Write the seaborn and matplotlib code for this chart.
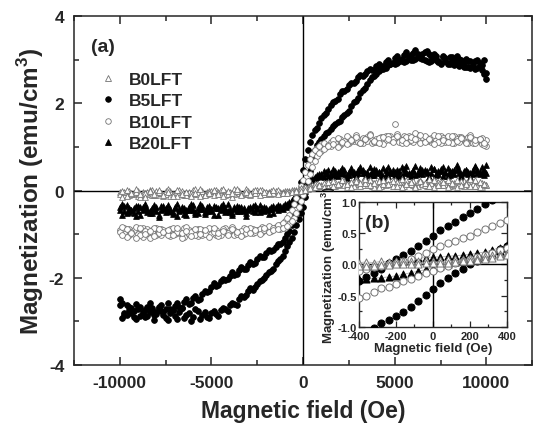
import matplotlib
matplotlib.use("Agg")
import matplotlib.pyplot as plt
import seaborn as sns
from matplotlib.lines import Line2D
from matplotlib.ticker import MultipleLocator, FormatStrFormatter

# ---- data: main loops (Oe, emu/cm^3) ----
field = [-10000, -9750, -9500, -9250, -9000, -8750, -8500, -8250, -8000, -7750,
         -7500, -7250, -7000, -6750, -6500, -6250, -6000, -5750, -5500, -5250,
         -5000, -4750, -4500, -4250, -4000, -3750, -3500, -3250, -3000, -2750,
         -2500, -2250, -2000, -1750, -1500, -1250, -1000, -750, -500, -250,
         0, 250, 500, 750, 1000, 1250, 1500, 1750, 2000, 2250,
         2500, 2750, 3000, 3250, 3500, 3750, 4000, 4250, 4500, 4750,
         5000, 5250, 5500, 5750, 6000, 6250, 6500, 6750, 7000, 7250,
         7500, 7750, 8000, 8250, 8500, 8750, 9000, 9250, 9500, 9750, 10000]
# in-between field points of the sweep
field_mid = [-9875, -9625, -9375, -9125, -8875, -8625, -8375, -8125, -7875, -7625,
             -7375, -7125, -6875, -6625, -6375, -6125, -5875, -5625, -5375, -5125,
             -4875, -4625, -4375, -4125, -3875, -3625, -3375, -3125, -2875, -2625,
             -2375, -2125, -1875, -1625, -1375, -1125, -875, -625, -375, -125,
             125, 375, 625, 875, 1125, 1375, 1625, 1875, 2125, 2375,
             2625, 2875, 3125, 3375, 3625, 3875, 4125, 4375, 4625, 4875,
             5125, 5375, 5625, 5875, 6125, 6375, 6625, 6875, 7125, 7375,
             7625, 7875, 8125, 8375, 8625, 8875, 9125, 9375, 9625, 9875]

# B5LFT: descending branch (from +10 kOe) and ascending branch (from -10 kOe)
b5_down = [-2.62, -2.80, -2.68, -2.77, -2.71, -2.83, -2.66, -2.74, -2.79, -2.63,
           -2.72, -2.81, -2.64, -2.66, -2.55, -2.60, -2.47, -2.50, -2.38, -2.33,
           -2.22, -2.19, -2.08, -2.04, -1.95, -1.93, -1.83, -1.80, -1.70, -1.68,
           -1.58, -1.53, -1.44, -1.39, -1.29, -1.22, -1.10, -0.92, -0.58, -0.06,
           0.47, 0.93, 1.27, 1.43, 1.66, 1.78, 1.97, 2.05, 2.22, 2.28,
           2.42, 2.47, 2.60, 2.63, 2.74, 2.76, 2.86, 2.84, 2.95, 2.91,
           3.03, 2.98, 3.10, 3.02, 3.15, 3.05, 3.12, 2.98, 3.08, 3.00,
           2.93, 3.04, 2.90, 2.99, 2.86, 2.95, 2.84, 2.93, 2.80, 2.88, 2.70]
b5_up = [-2.48, -2.86, -2.74, -2.90, -2.70, -2.79, -2.88, -2.69, -2.84, -2.76,
         -2.92, -2.71, -2.87, -2.78, -2.93, -2.80, -2.89, -2.77, -2.86, -2.90,
         -2.81, -2.84, -2.74, -2.72, -2.63, -2.60, -2.49, -2.43, -2.31, -2.27,
         -2.14, -2.06, -1.94, -1.84, -1.69, -1.57, -1.39, -1.18, -0.94, -0.66,
         -0.38, 0.12, 0.78, 1.05, 1.18, 1.31, 1.40, 1.53, 1.60, 1.74,
         1.83, 2.02, 2.13, 2.31, 2.44, 2.60, 2.66, 2.78, 2.81, 2.90,
         2.89, 2.97, 2.94, 3.06, 2.99, 3.13, 3.02, 3.20, 2.96, 3.09,
         2.89, 2.97, 3.06, 2.88, 3.01, 2.83, 2.97, 2.86, 2.99, 2.77, 2.56]
b5_down_mid = [-2.58, -2.86, -2.70, -2.60, -2.88, -2.75, -2.57, -2.85, -2.69, -2.78,
               -2.58, -2.73, -2.57, -2.69, -2.49, -2.58, -2.41, -2.49, -2.30, -2.31,
               -2.13, -2.17, -2.02, -2.03, -1.87, -1.92, -1.76, -1.79, -1.64, -1.66,
               -1.51, -1.52, -1.37, -1.36, -1.23, -1.19, -0.99, -0.80, -0.32, 0.20,
               0.72, 1.12, 1.38, 1.55, 1.74, 1.87, 2.03, 2.10, 2.27, 2.33,
               2.47, 2.50, 2.64, 2.66, 2.79, 2.77, 2.91, 2.85, 3.00, 2.92,
               3.09, 2.96, 3.18, 3.00, 3.22, 3.03, 3.17, 2.95, 3.12, 2.98,
               3.08, 2.92, 3.05, 2.89, 3.00, 2.82, 2.97, 2.78, 2.92, 2.66]
b5_up_mid = [-2.92, -2.63, -2.81, -2.95, -2.66, -2.91, -2.78, -2.96, -2.67, -2.85,
             -2.97, -2.75, -2.94, -2.70, -2.86, -2.98, -2.72, -2.95, -2.79, -2.93,
             -2.76, -2.88, -2.70, -2.77, -2.57, -2.63, -2.42, -2.39, -2.24, -2.22,
             -2.08, -2.01, -1.86, -1.79, -1.61, -1.50, -1.28, -1.08, -0.80, -0.52,
             -0.15, 0.45, 0.92, 1.12, 1.25, 1.35, 1.47, 1.56, 1.69, 1.77,
             1.94, 2.05, 2.24, 2.36, 2.53, 2.62, 2.74, 2.79, 2.87, 2.93,
             2.92, 3.02, 2.97, 3.10, 3.01, 3.08, 2.99, 3.14, 3.03, 2.94,
             3.07, 2.90, 2.98, 3.08, 2.91, 3.02, 2.81, 2.96, 2.87, 2.99]

# B10LFT
b10_down = [-0.90, -0.97, -0.88, -1.00, -0.92, -0.86, -0.98, -0.91, -1.02, -0.89,
            -0.95, -1.04, -0.90, -0.97, -0.87, -0.99, -0.93, -1.05, -0.91, -0.96,
            -0.88, -1.01, -0.94, -0.86, -0.97, -0.90, -0.99, -0.87, -0.95, -0.89,
            -0.93, -0.84, -0.90, -0.85, -0.83, -0.78, -0.70, -0.55, -0.32, -0.04,
            0.25, 0.58, 0.84, 0.97, 1.06, 1.03, 1.12, 1.08, 1.17, 1.11,
            1.21, 1.14, 1.19, 1.09, 1.23, 1.16, 1.12, 1.22, 1.15, 1.26,
            1.52, 1.18, 1.24, 1.13, 1.20, 1.27, 1.14, 1.21, 1.11, 1.19,
            1.25, 1.12, 1.18, 1.10, 1.22, 1.15, 1.08, 1.19, 1.13, 1.06, 1.15]
b10_up = [-0.95, -0.86, -1.03, -0.91, -0.99, -1.06, -0.89, -0.96, -0.87, -1.01,
          -0.92, -0.88, -1.00, -0.94, -1.07, -0.90, -0.98, -0.89, -1.02, -0.93,
          -1.00, -0.91, -1.03, -0.95, -0.90, -1.01, -0.94, -1.00, -0.92, -0.98,
          -0.90, -0.95, -0.88, -0.93, -0.87, -0.88, -0.85, -0.77, -0.63, -0.38,
          -0.10, 0.22, 0.55, 0.79, 0.90, 0.99, 1.01, 1.08, 1.05, 1.13,
          1.10, 1.18, 1.12, 1.20, 1.14, 1.09, 1.18, 1.13, 1.24, 1.16,
          1.21, 1.12, 1.17, 1.26, 1.11, 1.18, 1.23, 1.13, 1.20, 1.15,
          1.10, 1.21, 1.14, 1.24, 1.12, 1.17, 1.22, 1.10, 1.16, 1.21, 1.02]
b10_down_mid = [-0.84, -1.06, -0.95, -0.83, -1.01, -0.93, -1.08, -0.85, -0.97, -0.90,
                -1.03, -0.87, -0.96, -1.09, -0.84, -0.94, -1.02, -0.88, -0.99, -0.85,
                -0.95, -1.04, -0.89, -0.98, -0.83, -1.00, -0.92, -0.97, -0.86, -0.94,
                -0.88, -0.91, -0.82, -0.87, -0.80, -0.74, -0.63, -0.45, -0.18, 0.10,
                0.43, 0.72, 0.92, 1.01, 1.10, 1.05, 1.16, 1.20, 1.09, 1.25,
                1.14, 1.27, 1.08, 1.18, 1.30, 1.12, 1.21, 1.07, 1.26, 1.17,
                1.29, 1.10, 1.22, 1.16, 1.31, 1.09, 1.24, 1.15, 1.28, 1.11,
                1.20, 1.26, 1.08, 1.17, 1.23, 1.12, 1.27, 1.09, 1.18, 1.04]
b10_up_mid = [-1.01, -0.89, -0.97, -1.08, -0.85, -0.99, -0.92, -1.04, -0.88, -0.96,
              -0.90, -1.02, -0.86, -0.97, -0.93, -1.05, -0.88, -0.99, -0.91, -1.06,
              -0.87, -0.98, -0.93, -1.02, -0.89, -0.96, -1.04, -0.88, -0.97, -0.91,
              -0.99, -0.86, -0.94, -0.90, -0.89, -0.86, -0.81, -0.71, -0.51, -0.24,
              0.05, 0.38, 0.68, 0.85, 0.95, 1.02, 1.06, 1.00, 1.11, 1.07,
              1.16, 1.22, 1.10, 1.19, 1.27, 1.13, 1.08, 1.23, 1.17, 1.11,
              1.25, 1.15, 1.09, 1.22, 1.18, 1.28, 1.12, 1.19, 1.07, 1.24,
              1.16, 1.11, 1.26, 1.13, 1.20, 1.08, 1.23, 1.15, 1.19, 1.10]

# B20LFT
b20_down = [-0.38, -0.47, -0.41, -0.52, -0.36, -0.44, -0.49, -0.39, -0.46, -0.35,
            -0.50, -0.42, -0.37, -0.48, -0.40, -0.45, -0.34, -0.51, -0.43, -0.38,
            -0.47, -0.41, -0.36, -0.49, -0.42, -0.37, -0.46, -0.40, -0.44, -0.35,
            -0.43, -0.39, -0.45, -0.37, -0.40, -0.36, -0.32, -0.26, -0.15, 0.00,
            0.10, 0.21, 0.29, 0.35, 0.37, 0.42, 0.36, 0.44, 0.39, 0.47,
            0.35, 0.43, 0.40, 0.48, 0.37, 0.45, 0.41, 0.34, 0.46, 0.39,
            0.43, 0.36, 0.49, 0.40, 0.44, 0.37, 0.47, 0.41, 0.55, 0.38,
            0.45, 0.42, 0.35, 0.48, 0.40, 0.44, 0.37, 0.46, 0.41, 0.54, 0.39]
b20_up = [-0.44, -0.36, -0.49, -0.40, -0.46, -0.38, -0.43, -0.51, -0.37, -0.45,
          -0.41, -0.47, -0.39, -0.43, -0.53, -0.38, -0.44, -0.40, -0.36, -0.48,
          -0.42, -0.37, -0.45, -0.40, -0.50, -0.43, -0.38, -0.46, -0.41, -0.47,
          -0.39, -0.44, -0.40, -0.43, -0.38, -0.39, -0.36, -0.33, -0.28, -0.22,
          -0.08, 0.08, 0.24, 0.31, 0.34, 0.38, 0.41, 0.36, 0.45, 0.38,
          0.42, 0.37, 0.46, 0.39, 0.43, 0.35, 0.47, 0.40, 0.38, 0.44,
          0.36, 0.45, 0.41, 0.37, 0.48, 0.42, 0.38, 0.45, 0.40, 0.36,
          0.49, 0.41, 0.44, 0.37, 0.46, 0.39, 0.43, 0.38, 0.47, 0.40, 0.58]
b20_down_mid = [-0.55, -0.33, -0.45, -0.58, -0.38, -0.30, -0.51, -0.43, -0.60, -0.36,
                -0.47, -0.54, -0.31, -0.44, -0.57, -0.39, -0.49, -0.32, -0.53, -0.45,
                -0.35, -0.56, -0.43, -0.30, -0.52, -0.46, -0.38, -0.58, -0.41, -0.50,
                -0.33, -0.48, -0.42, -0.52, -0.34, -0.43, -0.31, -0.21, -0.08, 0.05,
                0.16, 0.25, 0.32, 0.33, 0.45, 0.31, 0.50, 0.34, 0.41, 0.29,
                0.52, 0.38, 0.46, 0.30, 0.55, 0.36, 0.43, 0.51, 0.33, 0.48,
                0.30, 0.53, 0.42, 0.34, 0.57, 0.39, 0.46, 0.31, 0.50, 0.44,
                0.33, 0.52, 0.40, 0.58, 0.36, 0.47, 0.30, 0.53, 0.43, 0.35]
b20_up_mid = [-0.31, -0.52, -0.44, -0.35, -0.57, -0.40, -0.48, -0.33, -0.55, -0.42,
              -0.34, -0.50, -0.58, -0.37, -0.45, -0.31, -0.54, -0.43, -0.49, -0.36,
              -0.55, -0.40, -0.32, -0.47, -0.56, -0.35, -0.44, -0.51, -0.38, -0.33,
              -0.49, -0.37, -0.54, -0.36, -0.45, -0.35, -0.38, -0.31, -0.25, -0.16,
              0.00, 0.17, 0.28, 0.37, 0.30, 0.47, 0.33, 0.42, 0.51, 0.35,
              0.44, 0.31, 0.53, 0.40, 0.35, 0.49, 0.42, 0.32, 0.54, 0.39,
              0.47, 0.33, 0.56, 0.41, 0.36, 0.52, 0.44, 0.31, 0.49, 0.38,
              0.55, 0.34, 0.45, 0.50, 0.32, 0.46, 0.39, 0.56, 0.37, 0.48]

# B0LFT
b0_down = [-0.04, -0.10, -0.02, -0.08, -0.12, -0.03, -0.07, -0.11, 0.00, -0.06,
           -0.09, -0.02, -0.08, -0.04, -0.11, -0.05, 0.01, -0.07, -0.10, -0.03,
           -0.06, 0.02, -0.09, -0.04, -0.07, 0.03, -0.05, -0.08, -0.01, -0.06,
           0.02, -0.04, -0.07, 0.00, -0.03, -0.05, -0.01, 0.00, 0.01, 0.03,
           0.06, 0.09, 0.12, 0.14, 0.13, 0.17, 0.12, 0.19, 0.14, 0.21,
           0.11, 0.18, 0.15, 0.22, 0.13, 0.19, 0.16, 0.10, 0.20, 0.14,
           0.23, 0.12, 0.18, 0.15, 0.21, 0.11, 0.17, 0.14, 0.20, 0.13,
           0.19, 0.16, 0.10, 0.18, 0.14, 0.21, 0.12, 0.17, 0.15, 0.09, 0.13]
b0_up = [-0.08, -0.03, -0.11, -0.05, -0.01, -0.09, -0.04, 0.01, -0.10, -0.06,
         -0.02, -0.12, -0.05, 0.02, -0.07, -0.03, -0.09, -0.04, 0.00, -0.08,
         -0.02, -0.06, 0.01, -0.10, -0.03, -0.07, 0.00, -0.05, -0.09, -0.02,
         -0.06, 0.01, -0.04, -0.07, -0.02, -0.04, -0.05, -0.04, -0.03, -0.01,
         0.01, 0.03, 0.06, 0.09, 0.11, 0.10, 0.15, 0.11, 0.17, 0.12,
         0.16, 0.10, 0.19, 0.13, 0.17, 0.11, 0.20, 0.14, 0.12, 0.18,
         0.15, 0.20, 0.11, 0.16, 0.13, 0.19, 0.15, 0.10, 0.17, 0.21,
         0.12, 0.15, 0.19, 0.13, 0.16, 0.11, 0.18, 0.14, 0.10, 0.17, 0.12]
b0_down_mid = [-0.14, 0.01, -0.09, -0.03, -0.15, -0.06, 0.02, -0.11, -0.04, -0.13,
               0.03, -0.08, -0.12, -0.01, -0.10, -0.05, 0.04, -0.13, -0.07, 0.00,
               -0.11, -0.04, 0.03, -0.09, -0.14, -0.02, -0.08, 0.04, -0.10, -0.05,
               0.01, -0.09, -0.03, -0.06, 0.02, -0.04, -0.01, 0.01, 0.02, 0.05,
               0.07, 0.10, 0.14, 0.11, 0.18, 0.08, 0.22, 0.13, 0.25, 0.09,
               0.20, 0.27, 0.10, 0.17, 0.24, 0.07, 0.21, 0.14, 0.26, 0.11,
               0.19, 0.08, 0.25, 0.16, 0.10, 0.23, 0.13, 0.27, 0.09, 0.20,
               0.12, 0.24, 0.15, 0.08, 0.22, 0.18, 0.11, 0.25, 0.07, 0.16]
b0_up_mid = [-0.01, -0.12, -0.06, 0.03, -0.09, -0.14, -0.02, -0.07, 0.02, -0.11,
             -0.04, -0.13, 0.01, -0.08, -0.03, -0.12, -0.06, 0.03, -0.10, -0.05,
             0.02, -0.08, -0.13, -0.01, -0.06, 0.03, -0.11, -0.04, -0.08, 0.01,
             -0.10, -0.03, -0.06, 0.02, -0.08, -0.05, -0.05, -0.04, -0.02, 0.00,
             0.02, 0.05, 0.07, 0.13, 0.08, 0.19, 0.10, 0.16, 0.23, 0.14,
             0.09, 0.22, 0.17, 0.26, 0.12, 0.18, 0.08, 0.24, 0.15, 0.21,
             0.10, 0.26, 0.14, 0.19, 0.07, 0.22, 0.17, 0.11, 0.25, 0.13,
             0.20, 0.09, 0.18, 0.24, 0.12, 0.16, 0.27, 0.10, 0.19, 0.14]

# ---- data: low-field inset ----
field_in = [-400, -360, -320, -280, -240, -200, -160, -120, -80, -40, 0,
            40, 80, 120, 160, 200, 240, 280, 320, 360, 400]
b5_in_down = [-0.26, -0.20, -0.14, -0.08, 0.03, 0.09, 0.15, 0.22, 0.29, 0.37, 0.45,
              0.55, 0.62, 0.68, 0.76, 0.83, 0.89, 0.96, 1.03, 1.10, 1.17]
b5_in_up = [-1.15, -1.08, -1.01, -0.94, -0.89, -0.83, -0.76, -0.68, -0.59, -0.49, -0.39,
            -0.29, -0.21, -0.14, -0.07, 0.00, 0.06, 0.12, 0.18, 0.24, 0.30]
b10_in_down = [-0.10, -0.07, -0.04, -0.02, 0.00, 0.02, 0.05, 0.09, 0.13, 0.19, 0.25,
               0.29, 0.34, 0.38, 0.42, 0.46, 0.52, 0.57, 0.62, 0.67, 0.71]
b10_in_up = [-0.53, -0.50, -0.44, -0.38, -0.36, -0.32, -0.27, -0.23, -0.19, -0.14, -0.10,
             -0.06, -0.02, 0.02, 0.05, 0.08, 0.12, 0.15, 0.19, 0.23, 0.27]
b20_in_down = [-0.06, -0.04, -0.02, 0.00, 0.02, 0.04, 0.06, 0.08, 0.10, 0.11, 0.12,
               0.12, 0.13, 0.14, 0.15, 0.16, 0.18, 0.20, 0.23, 0.27, 0.31]
b20_in_up = [-0.24, -0.23, -0.22, -0.21, -0.20, -0.18, -0.16, -0.13, -0.11, -0.08, -0.05,
             -0.02, 0.01, 0.04, 0.06, 0.08, 0.10, 0.13, 0.17, 0.21, 0.26]
b0_in_down = [0.03, 0.04, 0.03, 0.05, 0.04, 0.05, 0.06, 0.05, 0.06, 0.07, 0.06,
              0.07, 0.08, 0.08, 0.09, 0.10, 0.11, 0.13, 0.15, 0.17, 0.19]
b0_in_up = [-0.03, -0.02, -0.02, -0.01, -0.01, 0.00, 0.00, 0.01, 0.01, 0.02, 0.02,
            0.03, 0.03, 0.04, 0.05, 0.06, 0.07, 0.09, 0.11, 0.13, 0.15]

labels = ["B0LFT", "B5LFT", "B10LFT", "B20LFT"]

# ---- style ----
sns.set_style("ticks")
plt.rcParams['font.family'] = ['Liberation Sans', 'DejaVu Sans']
plt.rcParams['font.weight'] = 'bold'
plt.rcParams['axes.unicode_minus'] = False
plt.rcParams['mathtext.fontset'] = 'custom'
plt.rcParams['mathtext.rm'] = 'Liberation Sans:bold'
plt.rcParams['mathtext.bf'] = 'Liberation Sans:bold'

GRAY = '0.45'
styles = {
    "B0LFT": dict(marker='^', color='white', edgecolor=GRAY),
    "B5LFT": dict(marker='o', color='black', edgecolor='black'),
    "B10LFT": dict(marker='o', color='white', edgecolor=GRAY),
    "B20LFT": dict(marker='^', color='black', edgecolor='black'),
}
main_series = {
    "B5LFT": (b5_down, b5_up, b5_down_mid, b5_up_mid),
    "B20LFT": (b20_down, b20_up, b20_down_mid, b20_up_mid),
    "B10LFT": (b10_down, b10_up, b10_down_mid, b10_up_mid),
    "B0LFT": (b0_down, b0_up, b0_down_mid, b0_up_mid),
}
inset_series = {
    "B5LFT": (b5_in_down, b5_in_up),
    "B20LFT": (b20_in_down, b20_in_up),
    "B10LFT": (b10_in_down, b10_in_up),
    "B0LFT": (b0_in_down, b0_in_up),
}

fig = plt.figure(figsize=(5.33, 4.35), dpi=100)
ax = fig.add_axes([0.1388, 0.1586, 0.8599, 0.8023])

for name, (down, up, down_mid, up_mid) in main_series.items():
    xs = field + field + field_mid + field_mid
    ys = down + up + down_mid + up_mid
    sns.scatterplot(x=xs, y=ys, ax=ax, s=17, linewidth=0.6,
                    legend=False, zorder=3, **styles[name])

ax.axhline(0, color='black', lw=1.0, zorder=2)
ax.axvline(0, color='black', lw=1.0, zorder=2)
ax.set_xlim(-12500, 12500)
ax.set_ylim(-4, 4)
ax.xaxis.set_major_locator(MultipleLocator(5000))
ax.xaxis.set_minor_locator(MultipleLocator(2500))
ax.yaxis.set_major_locator(MultipleLocator(2))
ax.yaxis.set_minor_locator(MultipleLocator(1))
ax.tick_params(which='both', direction='in', top=True, right=True, width=1.1)
ax.tick_params(which='major', length=6, pad=7, labelsize=12.5)
ax.tick_params(which='minor', length=3.5)
for lab in ax.get_xticklabels() + ax.get_yticklabels():
    lab.set_fontweight('bold')
for sp in ax.spines.values():
    sp.set_linewidth(1.1)
ax.set_xlabel("Magnetic field (Oe)", fontsize=16.5, fontweight='bold', labelpad=7)
ax.set_ylabel(r"Magnetization (emu/cm$^{\mathbf{3}}$)", fontsize=17.5,
              fontweight='bold', labelpad=2)
ax.text(0.064, 0.9126, "(a)", transform=ax.transAxes, fontsize=14,
        fontweight='bold', ha='center', va='center')

handles = [Line2D([], [], linestyle='none', markersize=4, markeredgewidth=0.6,
                  marker=styles[n]['marker'], markerfacecolor=styles[n]['color'],
                  markeredgecolor=styles[n]['edgecolor']) for n in labels]
ax.legend(handles, labels, loc='upper left', bbox_to_anchor=(0.055, 0.841),
          frameon=False, borderaxespad=0, borderpad=0, handlelength=1.0,
          handletextpad=0.7, labelspacing=0.37,
          prop={'size': 12.5, 'weight': 'bold'})

# ---- inset ----
axi = fig.add_axes([0.6735, 0.2460, 0.2777, 0.2874])
axi.set_facecolor('white')
for name, (down, up) in inset_series.items():
    for branch in (down, up):
        sns.lineplot(x=field_in, y=branch, ax=axi, color='0.7', lw=0.6,
                     sort=False, estimator=None, zorder=2)
        sns.scatterplot(x=field_in, y=branch, ax=axi, s=26, linewidth=0.7,
                        legend=False, zorder=3, **styles[name])
axi.axhline(0, color='black', lw=1.0, zorder=1)
axi.axvline(0, color='black', lw=1.0, zorder=1)
axi.set_xlim(-400, 400)
axi.set_ylim(-1, 1)
axi.xaxis.set_major_locator(MultipleLocator(200))
axi.xaxis.set_minor_locator(MultipleLocator(100))
axi.yaxis.set_major_locator(MultipleLocator(0.5))
axi.yaxis.set_minor_locator(MultipleLocator(0.25))
axi.yaxis.set_major_formatter(FormatStrFormatter('%.1f'))
axi.tick_params(which='both', direction='in', top=True, right=True, width=0.9)
axi.tick_params(which='major', length=4, labelsize=8)
axi.tick_params(axis='x', which='major', pad=3)
axi.tick_params(axis='y', which='major', pad=1.5)
axi.tick_params(which='minor', length=2.5)
for lab in axi.get_xticklabels() + axi.get_yticklabels():
    lab.set_fontweight('bold')
for sp in axi.spines.values():
    sp.set_linewidth(1.0)
axi.set_xlabel("Magnetic field (Oe)", fontsize=9.5, fontweight='bold', labelpad=0.5)
axi.set_ylabel(r"Magnetization (emu/cm$^{\mathbf{3}}$)", fontsize=9.5,
               fontweight='bold', labelpad=0)
axi.text(0.125, 0.836, "(b)", transform=axi.transAxes, fontsize=14,
         fontweight='bold', ha='center', va='center')

fig.savefig("out.png", dpi=100)
